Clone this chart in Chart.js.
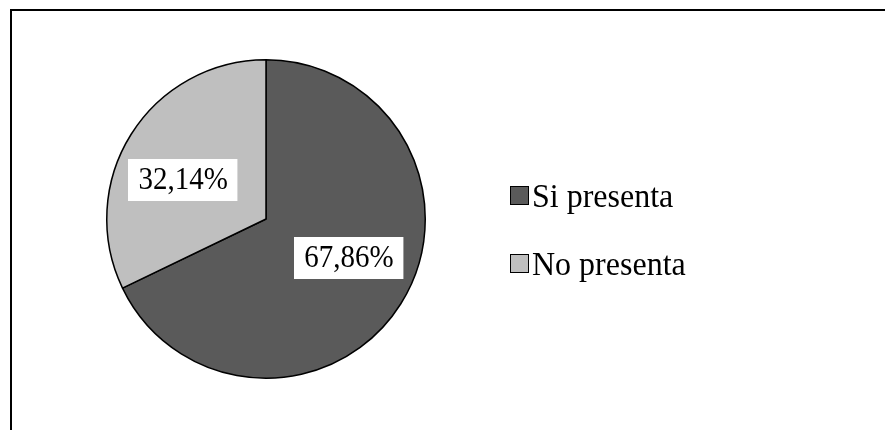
<!DOCTYPE html>
<html>
<head>
<meta charset="utf-8">
<script src="https://cdn.jsdelivr.net/npm/chart.js@4"></script>
<style>
  html, body { margin: 0; padding: 0; background: #fff; }
  #wrap { position: relative; width: 885px; height: 430px; overflow: hidden; }
  #frame {
    position: absolute; left: 10px; top: 9px; right: 0; bottom: 0;
    border-top: 2px solid #000; border-left: 2px solid #000;
  }
  #legend {
    position: absolute; left: 510px; top: 174px;
    font-family: "Liberation Serif", "Times New Roman", serif; font-size: 32px; color: #000;
  }
  .leg-row { display: flex; align-items: center; height: 42px; margin-bottom: 26px; }
  .leg-box { width: 19px; height: 19px; box-sizing: border-box; border: 1px solid #000; margin-right: 3px; }
  .leg-row span { display: inline-block; transform: scaleY(1.08); }
</style>
</head>
<body>
<div id="wrap">
  <div id="frame"></div>
  <canvas id="chart"></canvas>
  <div id="legend"></div>
</div>
<script>
const categorias = ['Si presenta', 'No presenta'];
const porcentajes = [67.86, 32.14];
const colores = ['#5a5a5a', '#bfbfbf'];

// etiquetas de porcentaje en cajas blancas
const etiquetasPlugin = {
  id: 'etiquetas',
  afterDatasetsDraw(chart, args, opts) {
    const ctx = chart.ctx;
    const meta = chart.getDatasetMeta(0);
    ctx.save();
    ctx.font = opts.font;
    ctx.textAlign = 'center';
    ctx.textBaseline = 'middle';
    meta.data.forEach((arc, i) => {
      const mid = (arc.startAngle + arc.endAngle) / 2 + opts.shift;
      const r = arc.outerRadius * opts.pos;
      const x = arc.x + Math.cos(mid) * r;
      const y = arc.y + Math.sin(mid) * r;
      const txt = porcentajes[i].toFixed(2).replace('.', ',') + '%';
      const w = ctx.measureText(txt).width + 20;
      const h = 42;
      ctx.fillStyle = '#fff';
      ctx.fillRect(Math.round(x - w / 2), Math.round(y - h / 2), w, h);
      ctx.fillStyle = '#000';
      // texto algo más alto que ancho, como el Times del informe
      ctx.save();
      ctx.translate(x, y + 1);
      ctx.scale(1, opts.stretch);
      ctx.fillText(txt, 0, 0);
      ctx.restore();
    });
    ctx.restore();
  }
};

const chart = new Chart(document.getElementById('chart'), {
  type: 'pie',
  data: {
    labels: categorias,
    datasets: [{
      data: porcentajes,
      backgroundColor: colores,
      borderColor: '#000',
      borderWidth: 1.5
    }]
  },
  options: {
    responsive: true,
    maintainAspectRatio: false,
    animation: false,
    layout: { padding: { left: 106, top: 59, right: 459, bottom: 51 } },
    plugins: {
      legend: { display: false },
      tooltip: { enabled: false },
      etiquetas: {
        font: '29px "Liberation Serif", "Times New Roman", serif',
        pos: 0.575,
        shift: -7 * Math.PI / 180,
        stretch: 1.1
      }
    }
  },
  plugins: [etiquetasPlugin]
});

// leyenda
document.getElementById('legend').innerHTML = categorias.map((c, i) => `
  <div class="leg-row">
    <div class="leg-box" style="background:${colores[i]};"></div>
    <span>${c}</span>
  </div>`).join('');
</script>
</body>
</html>
